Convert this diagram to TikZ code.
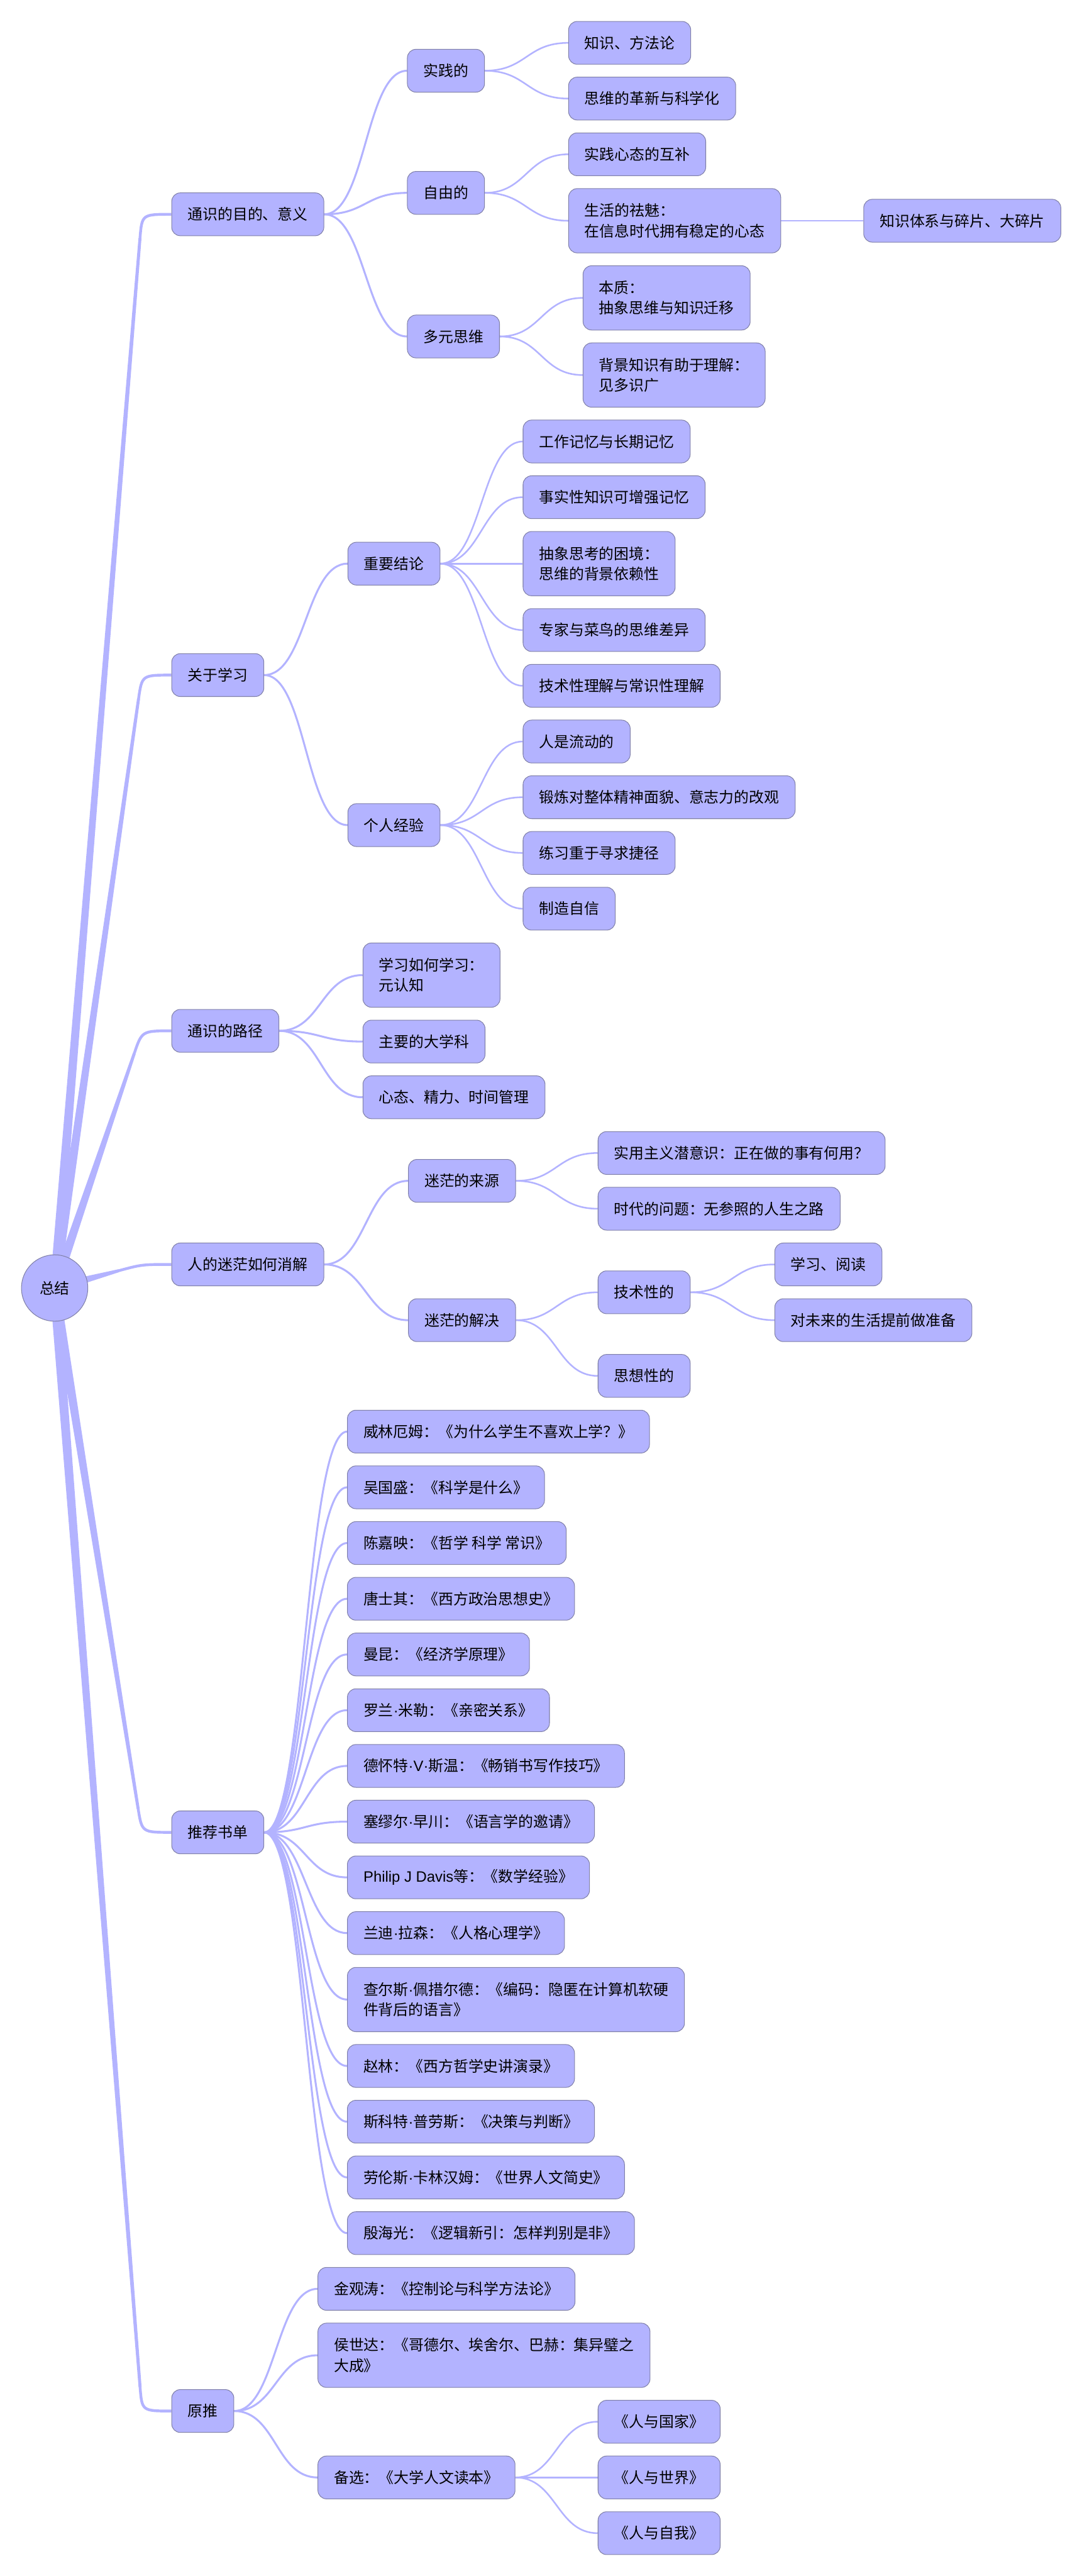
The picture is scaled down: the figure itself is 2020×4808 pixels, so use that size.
\documentclass[tikz,border=0pt]{standalone}
\usepackage{fontspec}
\setmainfont{Noto Sans CJK SC}
\newfontfamily\latinf{Liberation Sans}
\usetikzlibrary{calc, backgrounds}
\definecolor{mfill}{HTML}{B3B3FF}
\definecolor{mline}{HTML}{B3B3FF}
\definecolor{mborder}{HTML}{8080A8}
\newcommand{\dt}{{\latinf ·}}
\tikzset{
  mbox/.style={draw=mborder, fill=mfill, rounded corners=8pt, line width=0.6pt,
               anchor=west, align=left, minimum height=40pt,
               inner xsep=15pt, inner ysep=2pt, font=\fontsize{14pt}{19pt}\selectfont},
  twoline/.style={minimum height=60pt},
  rootnode/.style={circle, draw=mborder, fill=mfill, line width=0.6pt,
                   minimum size=62pt, inner sep=0pt, font=\fontsize{14pt}{19pt}\selectfont},
  branch/.style={draw=mline, line width=1.5pt,
                 to path={.. controls ($(\tikztostart)!0.5!(\tikztostart-|\tikztotarget)$)
                          and ($(\tikztotarget)!0.5!(\tikztotarget-|\tikztostart)$) .. (\tikztotarget)}},
  mainbranch/.style={branch, line width=1.8pt},
}
% tapered edge from the centre to a first-level topic
\newcommand{\rootedge}[1]{%
  \coordinate (rc) at ($(#1.west)+(-55,0)$);
  \coordinate (rq) at ($(rc)!22.5pt!(root.center)$);
  \fill[mline] ($(root.center)!4.5pt!90:(rq)$) -- ($(rq)!1.4pt!-90:(root.center)$)
    -- ($(rq)!1.4pt!90:(root.center)$) -- ($(root.center)!4.5pt!-90:(rq)$) -- cycle;
  \draw[mline, line width=2.6pt] ($(rq)!1pt!(root.center)$) -- (rq) .. controls (rc) .. (#1.west);
}

\begin{document}
\begin{tikzpicture}[x=0.5pt, y=-0.5pt]
  \useasboundingbox (0,0) rectangle (2020,4808);

  %% Centre
  \node[rootnode] (root) at (102,2404) {总结};

  %% First level
  \node[mbox] (purpose) at (320,400)  {通识的目的、意义};
  \node[mbox] (learn)   at (320,1260) {关于学习};
  \node[mbox] (path)    at (320,1924) {通识的路径};
  \node[mbox] (confuse) at (320,2360) {人的迷茫如何消解};
  \node[mbox] (books)   at (320,3420) {推荐书单};
  \node[mbox] (orig)    at (320,4500) {原推};

  %% Purpose
  \node[mbox] (practice) at (760,132) {实践的};
  \node[mbox] (free)     at (760,360) {自由的};
  \node[mbox] (multi)    at (760,628) {多元思维};
  \node[mbox] (knowhow)  at (1061,80)  {知识、方法论};
  \node[mbox] (reform)   at (1061,184) {思维的革新与科学化};
  \node[mbox] (mindset)  at (1061,288) {实践心态的互补};
  \node[mbox, twoline] (disench) at (1061,412) {生活的祛魅：\\在信息时代拥有稳定的心态};
  \node[mbox] (pieces)   at (1612,412) {知识体系与碎片、大碎片};
  \node[mbox, twoline] (essence) at (1088,556) {本质：\\抽象思维与知识迁移};
  \node[mbox, twoline] (backgr)  at (1088,700) {背景知识有助于理解：\\见多识广};

  %% Learning
  \node[mbox] (concl)   at (649,1052) {重要结论};
  \node[mbox] (exper)   at (649,1540) {个人经验};
  \node[mbox] (wm)      at (976,824)  {工作记忆与长期记忆};
  \node[mbox] (fact)    at (976,928)  {事实性知识可增强记忆};
  \node[mbox, twoline] (abstr) at (976,1052) {抽象思考的困境：\\思维的背景依赖性};
  \node[mbox] (expert)  at (976,1176) {专家与菜鸟的思维差异};
  \node[mbox] (underst) at (976,1280) {技术性理解与常识性理解};
  \node[mbox] (fluid)   at (976,1384) {人是流动的};
  \node[mbox] (train)   at (976,1488) {锻炼对整体精神面貌、意志力的改观};
  \node[mbox] (drill)   at (976,1592) {练习重于寻求捷径};
  \node[mbox] (confid)  at (976,1696) {制造自信};

  %% Path
  \node[mbox, twoline] (meta) at (677,1820) {学习如何学习：\\元认知};
  \node[mbox] (major)  at (677,1944) {主要的大学科};
  \node[mbox] (manage) at (677,2048) {心态、精力、时间管理};

  %% Confusion
  \node[mbox] (source)  at (762,2204)  {迷茫的来源};
  \node[mbox] (solve)   at (762,2464)  {迷茫的解决};
  \node[mbox] (pragm)   at (1116,2152) {实用主义潜意识：正在做的事有何用？};
  \node[mbox] (era)     at (1116,2256) {时代的问题：无参照的人生之路};
  \node[mbox] (techn)   at (1116,2412) {技术性的};
  \node[mbox] (thought) at (1116,2568) {思想性的};
  \node[mbox] (read)    at (1446,2360) {学习、阅读};
  \node[mbox] (future)  at (1446,2464) {对未来的生活提前做准备};

  %% Book list
  \node[mbox] (bk1)  at (648,2672) {威林厄姆：《为什么学生不喜欢上学？》};
  \node[mbox] (bk2)  at (648,2776) {吴国盛：《科学是什么》};
  \node[mbox] (bk3)  at (648,2880) {陈嘉映：《哲学 科学 常识》};
  \node[mbox] (bk4)  at (648,2984) {唐士其：《西方政治思想史》};
  \node[mbox] (bk5)  at (648,3088) {曼昆：《经济学原理》};
  \node[mbox] (bk6)  at (648,3192) {罗兰\dt 米勒：《亲密关系》};
  \node[mbox] (bk7)  at (648,3296) {德怀特\dt{\latinf V}\dt 斯温：《畅销书写作技巧》};
  \node[mbox] (bk8)  at (648,3400) {塞缪尔\dt 早川：《语言学的邀请》};
  \node[mbox] (bk9)  at (648,3504) {{\latinf Philip J Davis}等：《数学经验》};
  \node[mbox] (bk10) at (648,3608) {兰迪\dt 拉森：《人格心理学》};
  \node[mbox, twoline] (bk11) at (648,3732) {查尔斯\dt 佩措尔德：《编码：隐匿在计算机软硬\\件背后的语言》};
  \node[mbox] (bk12) at (648,3856) {赵林：《西方哲学史讲演录》};
  \node[mbox] (bk13) at (648,3960) {斯科特\dt 普劳斯：《决策与判断》};
  \node[mbox] (bk14) at (648,4064) {劳伦斯\dt 卡林汉姆：《世界人文简史》};
  \node[mbox] (bk15) at (648,4168) {殷海光：《逻辑新引：怎样判别是非》};

  %% Original post
  \node[mbox] (jin) at (593,4272) {金观涛：《控制论与科学方法论》};
  \node[mbox, twoline] (hou) at (593,4396) {侯世达：《哥德尔、埃舍尔、巴赫：集异璧之\\大成》};
  \node[mbox] (alt) at (593,4624) {备选：《大学人文读本》};
  \node[mbox] (state) at (1116,4520) {《人与国家》};
  \node[mbox] (world) at (1116,4624) {《人与世界》};
  \node[mbox] (self)  at (1116,4728) {《人与自我》};

  %% Connectors
  \begin{scope}[on background layer]
    \foreach \n in {purpose, learn, path, confuse, books, orig} {\rootedge{\n}}
    \foreach \a/\b in {purpose/practice, purpose/free, purpose/multi,
                       learn/concl, learn/exper, path/meta, path/major, path/manage,
                       confuse/source, confuse/solve, orig/jin, orig/hou, orig/alt}
      {\draw[mainbranch] (\a.east) to (\b.west);}
    \foreach \i in {1,...,15} {\draw[mainbranch] (books.east) to (bk\i.west);}
    \foreach \a/\b in {practice/knowhow, practice/reform, free/mindset, free/disench,
                       disench/pieces, multi/essence, multi/backgr,
                       concl/wm, concl/fact, concl/abstr, concl/expert, concl/underst,
                       exper/fluid, exper/train, exper/drill, exper/confid,
                       source/pragm, source/era, solve/techn, solve/thought,
                       techn/read, techn/future, alt/state, alt/world, alt/self}
      {\draw[branch] (\a.east) to (\b.west);}
  \end{scope}

\end{tikzpicture}
\end{document}
